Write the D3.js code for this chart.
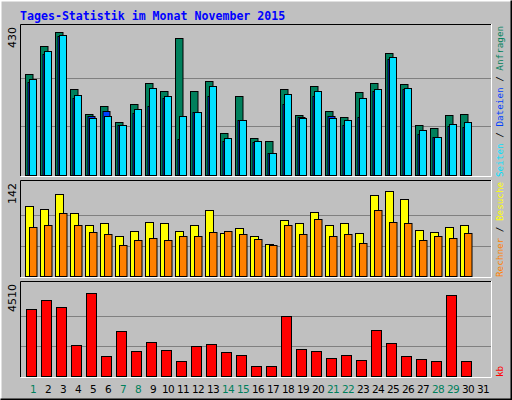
<!DOCTYPE html>
<html><head><meta charset="utf-8">
<script src="https://cdn.jsdelivr.net/npm/d3@7"></script>
<style>body{margin:0;background:#fff}svg{display:block}</style>
</head><body>
<script>
const days = d3.range(1,32);
const weekendDays = [1,7,8,14,15,21,22,28,29];
const hits  = [297,380,420,254,180,203,157,208,271,246,403,248,277,125,234,108,99,254,177,263,188,171,243,271,360,269,148,137,177,180];
const files = [274,357,409,226,174,188,148,183,203,228,105,185,234,99,162,97,65,208,171,234,174,148,171,248,343,254,122,111,145,140];
const pages = [283,366,412,237,168,174,148,194,257,234,174,185,263,108,162,99,65,240,168,248,168,162,228,254,349,257,134,111,151,157];
const visits= [109,105,128,98,80,83,63,70,85,83,70,79,103,67,75,63,50,87,83,100,80,83,67,126,132,120,72,69,77,79];
const sites = [77,80,99,80,69,66,49,56,59,56,62,62,69,70,66,57,49,79,66,89,63,65,52,103,85,83,56,62,60,67];
const kbytes= [3372,3828,3463,1549,4147,1003,2233,1230,1686,1322,729,1504,1595,1185,1048,501,501,3008,1367,1230,911,1048,820,2324,1641,1003,866,775,4056,729];
const maxHits=430, maxVisits=142, maxKb=4510;

const W=512,H=400;
const svg=d3.select("body").append("svg").attr("width",W).attr("height",H);
svg.append("rect").attr("width",W).attr("height",H).attr("fill","#c0c0c0");
svg.append("path").attr("d",`M0.5,${H-0.5}V0.5H${W-0.5}`).attr("stroke","#fff").attr("stroke-width",2).attr("fill","none");
svg.append("path").attr("d",`M0.5,${H-0.5}H${W-0.5}V0.5`).attr("stroke","#000").attr("stroke-width",2).attr("fill","none");

svg.append("text").attr("x",20).attr("y",20).text("Tages-Statistik im Monat November 2015")
  .attr("font-family","'DejaVu Sans Mono',monospace").attr("font-weight","bold").attr("font-size",11.6).attr("fill","#0000ff");

const x=d3.scaleLinear().domain([1,32]).range([25,490]);
const L=20,R=491;
function panel(top,bottom,maxV,label){
  svg.append("rect").attr("x",L).attr("y",top).attr("width",R-L).attr("height",bottom-top).attr("fill","#c0c0c0");
  const base=bottom-1;
  const y=d3.scaleLinear().domain([0,maxV]).range([base,base-(base-top-5)]);
  [maxV/3,2*maxV/3].forEach(v=>svg.append("line").attr("x1",L).attr("x2",R).attr("y1",Math.round(y(v))+.5).attr("y2",Math.round(y(v))+.5).attr("stroke","#808080"));
  svg.append("path").attr("d",`M${L+.5},${bottom}V${top+.5}H${R}`).attr("stroke","#000").attr("fill","none");
  svg.append("path").attr("d",`M${L+.5},${bottom+.5}H${R+.5}V${top}`).attr("stroke","#fff").attr("fill","none");
  svg.append("text").attr("transform",`translate(16,${top+3}) rotate(-90)`).attr("text-anchor","end")
    .attr("font-family","'DejaVu Sans',sans-serif").attr("font-size",11).text(label);
  return y;
}
function bars(data,y,off,w,color){
  svg.append("g").selectAll("rect").data(data).join("rect")
    .attr("x",(d,i)=>x(i+1)+off+.5).attr("y",d=>Math.round(y(d))+.5)
    .attr("width",w).attr("height",d=>Math.round(y(0))-Math.round(y(d)))
    .attr("fill",color).attr("stroke","#000");
}
const y1=panel(24,176,maxHits,"430");
bars(hits,y1,0,7.5,"#00805c");
bars(files,y1,2.5,7,"#0040ff");
bars(pages,y1,4,7,"#00e0ff");
const y2=panel(180,277,maxVisits,"142");
bars(visits,y2,0,8,"#ffff00");
bars(sites,y2,4,7.5,"#ff8000");
const y3=panel(281,377,maxKb,"4510");
bars(kbytes,y3,1,10,"#ff0000");

svg.append("g").selectAll("text").data(days).join("text")
  .attr("x",d=>x(d)+8).attr("y",393).attr("text-anchor","middle")
  .attr("font-family","'DejaVu Sans',sans-serif").attr("font-size",10.5).attr("letter-spacing",-0.6)
  .attr("fill",d=>weekendDays.includes(d)?"#00805c":"#000").text(d=>d);

function rlabel(yBottom,parts){
  const t=svg.append("text").attr("transform",`translate(503,${yBottom}) rotate(-90)`)
    .attr("font-family","'DejaVu Sans Mono',monospace").attr("font-size",9.3);
  parts.forEach(p=>t.append("tspan").attr("fill",p[1]).text(p[0]));
}
rlabel(177,[["Seiten","#00e0ff"],[" / ","#000"],["Dateien","#0040ff"],[" / ","#000"],["Anfragen","#00805c"]]);
rlabel(277,[["Rechner","#ff8000"],[" / ","#000"],["Besuche","#ffff00"]]);
rlabel(377,[["kb","#ff0000"]]);
</script>
</body></html>
